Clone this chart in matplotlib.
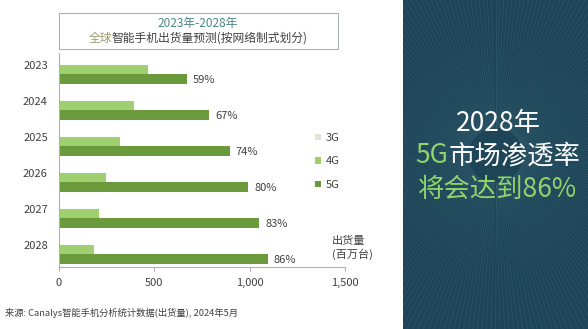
import numpy as np
import matplotlib
matplotlib.use("Agg")
import matplotlib.pyplot as plt

plt.rcParams["font.family"] = ["Noto Sans CJK SC", "DejaVu Sans"]

# --------------------

years = ["2023", "2024", "2025", "2026", "2027", "2028"]
ship_3g = [0, 0, 0, 0, 0, 0]
ship_4g = [467, 391, 318, 246, 211, 182]
ship_5g = [669, 789, 895, 993, 1051, 1096]
share_5g = ["59%", "67%", "74%", "80%", "83%", "86%"]
x_ticks = [0, 500, 1000, 1500]
x_labels = ["0", "500", "1,000", "1,500"]

c3g = "#dfe6d6"
c4g = "#9fcf6f"
c5g = "#6b9a3c"
txt = "#404040"

fig = plt.figure(figsize=(5.88, 3.29), dpi=100)
fig.patch.set_facecolor("white")

# Bars
ax = fig.add_axes([59 / 588, 1 - 267 / 329, 286 / 588, 214 / 329])
y = np.arange(len(years))
h = 0.265
ax.barh(y - h, ship_3g, height=h, color=c3g, label="3G")
ax.barh(y, ship_4g, height=h, color=c4g, label="4G")
ax.barh(y + h, ship_5g, height=h, color=c5g, label="5G")

for yi, v, s in zip(y, ship_5g, share_5g):
    ax.text(v + 30, yi + h + 0.03, s, va="center", ha="left", fontsize=8, color=txt)

ax.set_xlim(0, 1500)
ax.set_ylim(5.49, -0.46)
ax.set_yticks(y - h / 2)
ax.set_yticklabels(years, fontsize=8, color=txt)
ax.set_xticks(x_ticks)
ax.set_xticklabels(x_labels, fontsize=8, color=txt)
ax.tick_params(axis="y", length=0, pad=8)
ax.tick_params(axis="x", length=3, color="#b0b0b0", pad=5)
for sp in ["top", "right"]:
    ax.spines[sp].set_visible(False)
ax.spines["left"].set_color("#b0b0b0")
ax.spines["bottom"].set_color("#b0b0b0")

# Legend
leg = fig.legend(loc="upper left", bbox_to_anchor=(305 / 588, 1 - 123 / 329), frameon=False,
                 fontsize=8, handlelength=0.5, handleheight=0.5, handletextpad=0.5,
                 labelspacing=1.2, labelcolor=txt)

fig.text(332 / 588, 1 - 248 / 329, "出货量\n(百万台)", fontsize=8, color=txt,
         ha="left", va="center", linespacing=1.3)

# Title box
fig.patches.append(plt.Rectangle((59 / 588, 1 - 49 / 329), 279 / 588, 36 / 329,
                                 transform=fig.transFigure, fill=False,
                                 edgecolor="#a8b0b0", linewidth=0.8))
fig.text(198 / 588, 1 - 24 / 329, "2023年-2028年", fontsize=8.5, color="#4a8585",
         ha="center", va="center")

renderer = fig.canvas.get_renderer()
t1 = fig.text(0, 1 - 38 / 329, "全球", fontsize=8.5, color="#9a9a70", va="center")
t2 = fig.text(0, 1 - 38 / 329, "智能手机出货量预测(按网络制式划分)", fontsize=8.5, color=txt, va="center")
w1 = t1.get_window_extent(renderer).width / fig.bbox.width
w2 = t2.get_window_extent(renderer).width / fig.bbox.width
x0 = 198 / 588 - (w1 + w2) / 2
t1.set_x(x0)
t2.set_x(x0 + w1)

fig.text(5 / 588, 1 - 313 / 329, "来源: Canalys智能手机分析统计数据(出货量), 2024年5月",
         fontsize=6.7, color=txt, ha="left", va="center")

# Right panel
pax = fig.add_axes([403 / 588, 0, 185 / 588, 1])
pax.set_facecolor("#1d4557")
pax.set_xlim(-1, 1)
pax.set_ylim(-1.78, 1.78)
pax.set_xticks([])
pax.set_yticks([])
for sp in pax.spines.values():
    sp.set_visible(False)
for a in np.linspace(0, 2 * np.pi, 240, endpoint=False):
    pax.plot([0.3 * np.cos(a), 3 * np.cos(a)], [0.3 * np.sin(a) + 0.1, 3 * np.sin(a) + 0.1],
             color="#6a9ab0", alpha=0.16, linewidth=0.6)

cx = 498 / 588
fig.text(cx, 1 - 123 / 329, "2028年", fontsize=19, color="white", ha="center", va="center")
g1 = fig.text(0, 1 - 156 / 329, "5G", fontsize=19, color="#8fd46a", va="center")
g2 = fig.text(0, 1 - 156 / 329, "市场渗透率", fontsize=19, color="white", va="center")
w1 = g1.get_window_extent(renderer).width / fig.bbox.width
w2 = g2.get_window_extent(renderer).width / fig.bbox.width
x0 = cx - (w1 + w2) / 2
g1.set_x(x0)
g2.set_x(x0 + w1)
fig.text(cx, 1 - 189 / 329, "将会达到86%", fontsize=19, color="#8fd46a", ha="center", va="center")

fig.savefig("out.png", dpi=100)
